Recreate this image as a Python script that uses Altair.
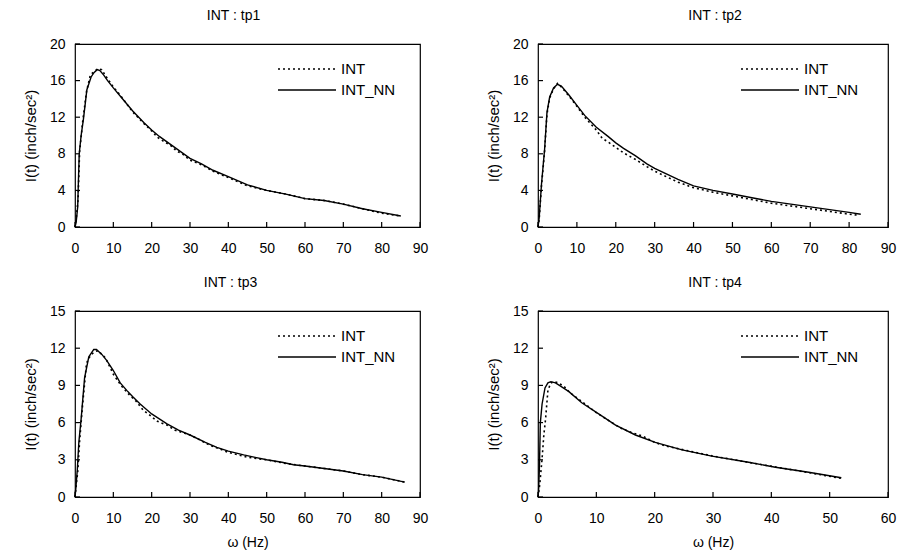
import altair as alt
import pandas as pd

# ---------------- data ----------------
legend_labels = ["INT", "INT_NN"]
titles = ["INT : tp1", "INT : tp2", "INT : tp3", "INT : tp4"]
y_title = "I(t)  (inch/sec²)"
x_title = "ω (Hz)"

# panel 1
p1_nn_x = [0, 0.3, 0.7, 1.1, 1.6, 2.2, 3.1, 4.2, 5.0, 5.8, 6.5, 7.5, 8.5, 10, 12, 15, 18, 20, 22, 25, 28, 30, 33, 36, 40, 45, 50, 55, 60, 65, 70, 75, 80, 85]
p1_nn_y = [0, 0.5, 2.2, 8.0, 10.0, 11.8, 15.0, 16.4, 16.9, 17.2, 17.1, 16.6, 16.0, 15.2, 14.2, 12.7, 11.4, 10.6, 9.9, 9.0, 8.1, 7.5, 6.9, 6.2, 5.5, 4.6, 4.0, 3.6, 3.1, 2.9, 2.5, 2.0, 1.6, 1.2]
p1_int_x = [0, 0.3, 0.8, 1.2, 2, 3, 4, 5, 6, 7, 8, 9, 10, 12, 15, 18, 20, 21.5, 23, 25, 26.5, 28, 30, 33, 36, 40, 45, 50, 55, 60, 65, 70, 75, 80, 85]
p1_int_y = [0, 0.8, 3.0, 8.2, 11.5, 14.8, 16.6, 17.0, 17.3, 17.2, 16.5, 15.9, 15.3, 14.3, 12.6, 11.3, 10.5, 9.8, 9.4, 8.9, 8.3, 8.0, 7.3, 6.8, 6.1, 5.4, 4.5, 4.0, 3.6, 3.1, 2.9, 2.5, 2.0, 1.5, 1.2]

# panel 2
p2_nn_x = [0, 0.3, 0.9, 1.7, 2.3, 3.0, 4.0, 5.0, 6.0, 8.0, 10, 12, 15, 18, 20, 22, 25, 28, 30, 33, 36, 40, 45, 50, 55, 60, 65, 70, 75, 80, 83]
p2_nn_y = [0, 1.0, 4.7, 8.5, 12.5, 14.2, 15.2, 15.6, 15.4, 14.4, 13.3, 12.2, 10.9, 9.9, 9.2, 8.6, 7.8, 6.9, 6.4, 5.8, 5.2, 4.5, 4.0, 3.6, 3.2, 2.8, 2.5, 2.2, 1.9, 1.6, 1.4]
p2_int_x = [0, 0.3, 0.9, 1.7, 2.3, 3, 4, 5, 6, 8, 10, 12, 15, 16.5, 18, 20, 22, 25, 28, 30, 33, 36, 40, 45, 50, 55, 60, 65, 70, 75, 80, 82]
p2_int_y = [0, 0.8, 4.5, 8.3, 12.3, 14.1, 15.1, 15.7, 15.3, 14.3, 13.2, 12.0, 10.6, 9.7, 9.3, 8.7, 8.1, 7.4, 6.6, 6.1, 5.5, 4.9, 4.3, 3.8, 3.4, 3.0, 2.6, 2.3, 2.0, 1.7, 1.4, 1.3]

# panel 3
p3_nn_x = [0, 0.2, 0.6, 1.0, 1.6, 2.5, 3.6, 4.9, 5.6, 7, 8.3, 10, 11.8, 13.5, 15, 17, 20, 22, 24, 27, 30, 34, 37, 40, 44, 47, 50, 54, 57, 60, 65, 70, 75, 80, 86]
p3_nn_y = [0, 0.6, 2.2, 4.4, 6.3, 9.6, 11.3, 11.9, 11.9, 11.5, 11.0, 10.2, 9.2, 8.6, 8.1, 7.5, 6.7, 6.3, 5.9, 5.4, 5.0, 4.4, 4.0, 3.7, 3.4, 3.2, 3.0, 2.8, 2.6, 2.5, 2.3, 2.1, 1.8, 1.6, 1.2]
p3_int_x = [0, 0.3, 0.7, 1.2, 2, 3, 4, 5, 6, 8, 10, 12, 14, 16, 17.8, 19.5, 21.5, 24, 26, 28, 30, 32, 35, 37.5, 40, 45, 50, 55, 60, 65, 70, 75, 80, 86]
p3_int_y = [0, 0.9, 2.0, 4.5, 7.5, 10.8, 11.4, 11.7, 11.8, 11.2, 9.9, 9.0, 8.3, 7.7, 7.0, 6.6, 6.1, 5.8, 5.4, 5.2, 5.0, 4.7, 4.2, 3.9, 3.6, 3.2, 3.0, 2.7, 2.5, 2.3, 2.1, 1.8, 1.6, 1.2]

# panel 4
p4_nn_x = [0, 0.1, 0.25, 0.4, 0.7, 1.2, 1.7, 2.2, 3, 4, 5.3, 7.5, 10.4, 13.3, 16.7, 20.1, 24.7, 29.8, 36.1, 40.7, 46.4, 52]
p4_nn_y = [0, 0.5, 2.5, 6.0, 7.5, 8.8, 9.2, 9.3, 9.2, 8.9, 8.5, 7.6, 6.7, 5.8, 5.0, 4.4, 3.8, 3.3, 2.8, 2.4, 2.0, 1.55]
p4_int_x = [0, 0.3, 0.7, 1.0, 1.3, 1.7, 2.2, 2.7, 3.5, 4.5, 5.5, 7.5, 10, 12, 14, 16, 18, 20, 22, 25, 30, 36, 41, 46, 52]
p4_int_y = [0, 1.0, 3.1, 5.0, 6.3, 8.6, 9.2, 9.3, 9.2, 8.9, 8.4, 7.7, 6.8, 6.2, 5.6, 5.2, 4.9, 4.4, 4.1, 3.8, 3.3, 2.8, 2.4, 2.0, 1.5]

FONT = "Liberation Sans"
TICK = 5


def panel(int_x, int_y, nn_x, nn_y, title, xmax, ymax, ystep, show_xtitle, dx, width, height):
    xvals = list(range(0, xmax + 1, 10))
    yvals = list(range(0, ymax + 1, ystep))
    xscale = alt.Scale(domain=[0, xmax], nice=False, zero=True)
    yscale = alt.Scale(domain=[0, ymax], nice=False)
    xaxis = alt.Axis(
        values=xvals, title=x_title if show_xtitle else None,
        grid=False, domain=False, ticks=False, labelFlush=False,
        labelPadding=14, titleFontSize=14, titlePadding=10,
    )
    yaxis = alt.Axis(
        values=yvals, title=y_title, grid=False, domain=False, ticks=False,
        labelFlush=False, labelPadding=10, titleFontSize=15, titlePadding=11,
    )
    X = alt.X("x:Q", scale=xscale, axis=xaxis)
    Y = alt.Y("y:Q", scale=yscale, axis=yaxis)
    d_int = pd.DataFrame({"x": int_x, "y": int_y})
    d_nn = pd.DataFrame({"x": nn_x, "y": nn_y})
    int_line = alt.Chart(d_int).mark_line(color="black", strokeWidth=1.6, strokeDash=[2, 3]).encode(x=X, y=Y)
    nn_line = alt.Chart(d_nn).mark_line(color="black", strokeWidth=1.4).encode(x=X, y=Y)
    # inward tick marks
    xt = alt.Chart(pd.DataFrame({"x": xvals})).mark_rule(color="black", strokeWidth=1.2).encode(
        x=X, y=alt.value(height), y2=alt.value(height - TICK))
    yt = alt.Chart(pd.DataFrame({"y": yvals})).mark_rule(color="black", strokeWidth=1.2).encode(
        y=Y, x=alt.value(0), x2=alt.value(TICK))
    lx0, lx1, ltx = 203, 261, 266
    rows = [25, 46]
    leg = []
    for i, (lab, dash) in enumerate(zip(legend_labels, [[2, 3], None])):
        ld = pd.DataFrame({"label": [lab]})
        kw = dict(color="black", strokeWidth=1.4)
        if dash:
            kw["strokeDash"] = dash
        leg.append(alt.Chart(ld).mark_rule(**kw).encode(
            x=alt.value(lx0), x2=alt.value(lx1), y=alt.value(rows[i])))
        leg.append(alt.Chart(ld).mark_text(align="left", baseline="middle", fontSize=15,
                                            font=FONT, color="black").encode(
            x=alt.value(ltx), y=alt.value(rows[i]), text="label:N"))
    return alt.layer(int_line, nn_line, xt, yt, *leg).properties(
        width=width, height=height,
        title=alt.TitleParams(title, fontSize=14, fontWeight="normal", font=FONT,
                              dx=dx, offset=14, color="black"),
    )


p1 = panel(p1_int_x, p1_int_y, p1_nn_x, p1_nn_y, titles[0], 90, 20, 4, False, -14, 345, 183)
p2 = panel(p2_int_x, p2_int_y, p2_nn_x, p2_nn_y, titles[1], 90, 20, 4, False, 2, 350, 183)
p3 = panel(p3_int_x, p3_int_y, p3_nn_x, p3_nn_y, titles[2], 90, 15, 3, True, -17, 345, 186)
p4 = panel(p4_int_x, p4_int_y, p4_nn_x, p4_nn_y, titles[3], 60, 15, 3, True, 2, 350, 186)

chart = alt.vconcat(
    alt.hconcat(p1, p2, spacing=56),
    alt.hconcat(p3, p4, spacing=56),
    spacing=19,
).properties(
    padding={"left": 14, "top": 0, "right": 0, "bottom": 0},
).configure_view(
    stroke="black", strokeWidth=1.2
).configure_axis(
    labelFont=FONT, titleFont=FONT, labelFontSize=14, labelColor="black",
    titleColor="black", titleFontWeight="normal",
)

chart.save("out.html", embed_options={"renderer": "svg", "actions": False})
